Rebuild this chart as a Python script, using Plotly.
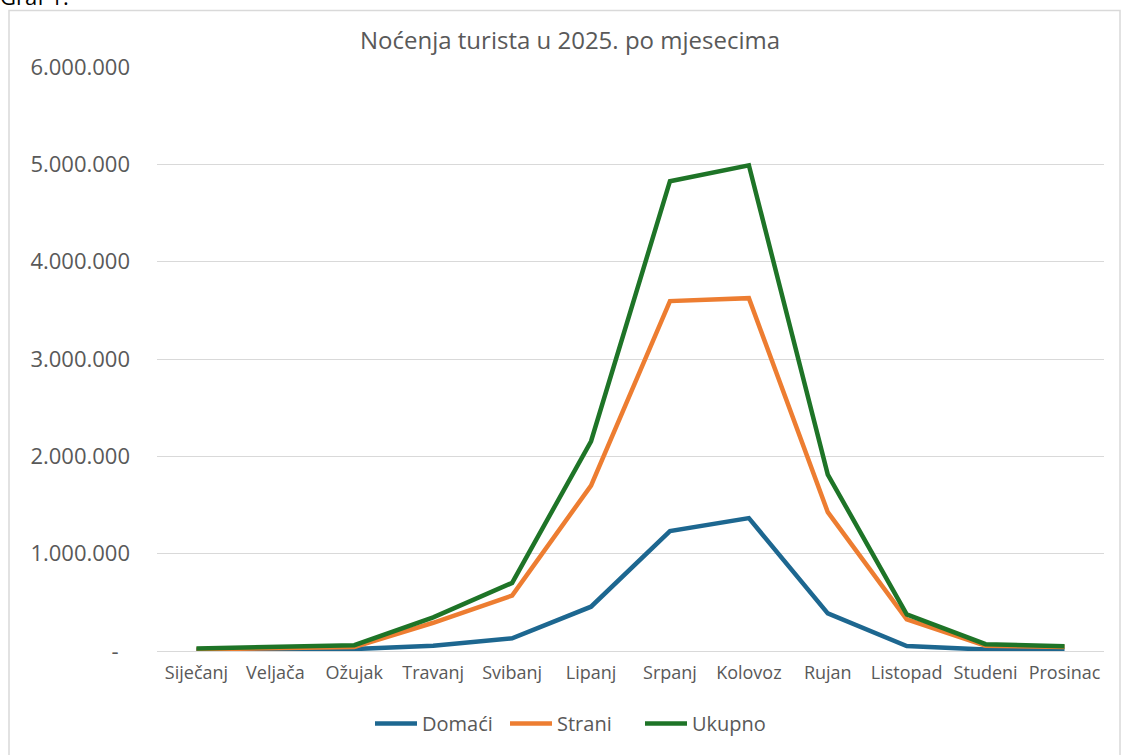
import plotly.graph_objects as go

months = ["Siječanj", "Veljača", "Ožujak", "Travanj", "Svibanj", "Lipanj",
          "Srpanj", "Kolovoz", "Rujan", "Listopad", "Studeni", "Prosinac"]
domaci = [8000, 12000, 20000, 55000, 130000, 455000, 1232000, 1365000, 387000, 51000, 15000, 10000]
strani = [17000, 25000, 40000, 290000, 570000, 1700000, 3595000, 3625000, 1426000, 326000, 55000, 40000]
ukupno = [d + s for d, s in zip(domaci, strani)]

y_ticks = [0, 1000000, 2000000, 3000000, 4000000, 5000000, 6000000]
y_labels = ["-\u00a0\u00a0", "1.000.000", "2.000.000", "3.000.000", "4.000.000", "5.000.000", "6.000.000"]

FONT = "Open Sans"
GREY = "#595959"

fig = go.Figure()
fig.add_trace(go.Scatter(x=months, y=domaci, name="Domaći", mode="lines",
                         line=dict(color="#1d6790", width=4.5)))
fig.add_trace(go.Scatter(x=months, y=strani, name="Strani", mode="lines",
                         line=dict(color="#ed7d31", width=4.5)))
fig.add_trace(go.Scatter(x=months, y=ukupno, name="Ukupno", mode="lines",
                         line=dict(color="#1e7427", width=4.5)))

W, H = 1121, 755
L, R, T, B = 157, 17, 67, 99
pw, ph = W - L - R, H - T - B

def px_x(p):  # page px -> paper x
    return (p - L) / pw

def px_y(p):  # page px -> paper y
    return (H - B - p) / ph

fig.update_layout(
    width=W, height=H,
    margin=dict(l=L, r=R, t=T, b=B),
    paper_bgcolor="white", plot_bgcolor="white",
    font=dict(family=FONT, color=GREY),
    title=dict(text="Noćenja turista u 2025. po mjesecima", xref="container",
               x=570 / W, xanchor="center",
               yref="container", y=1 - 41 / H, yanchor="middle",
               font=dict(size=24, color=GREY, family=FONT)),
    xaxis=dict(showgrid=False, showline=False, ticks="", tickfont=dict(size=18, color=GREY),
               range=[-0.5, 11.5], fixedrange=True, ticklabelstandoff=9),
    yaxis=dict(range=[0, 6000000], tickvals=y_ticks, ticktext=y_labels,
               showgrid=True, gridcolor="#d9d9d9", gridwidth=1, zeroline=True,
               zerolinecolor="#d9d9d9", zerolinewidth=1, showline=False, ticks="",
               tickfont=dict(size=22, color=GREY), ticklabelstandoff=26),
    legend=dict(orientation="h", x=px_x(370), xanchor="left", y=px_y(729), yanchor="middle",
                font=dict(size=20, color=GREY), itemwidth=42, traceorder="normal",
                entrywidth=78, entrywidthmode="pixels"),
    shapes=[dict(type="rect", xref="paper", yref="paper",
                 x0=px_x(9), x1=px_x(1120), y0=px_y(780), y1=px_y(10),
                 line=dict(color="#d9d9d9", width=1.5), layer="below")],
    annotations=[dict(text="Graf 1.", xref="paper", yref="paper", x=px_x(-2), y=px_y(13),
                      xanchor="left", yanchor="bottom", showarrow=False,
                      font=dict(size=22, color="#000000", family=FONT))],
)

fig.write_html("out.html", config={"displayModeBar": False},
               post_script="document.body.style.margin='0';")
